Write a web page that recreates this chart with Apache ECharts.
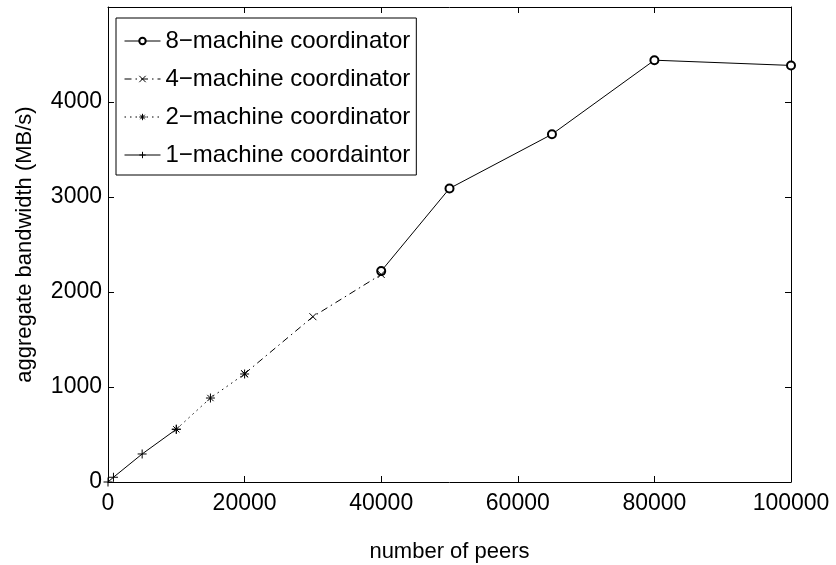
<!DOCTYPE html>
<html>
<head>
<meta charset="utf-8">
<script src="https://cdn.jsdelivr.net/npm/echarts@6/dist/echarts.min.js"></script>
<style>html,body{margin:0;padding:0;background:#fff;}#c{width:836px;height:565px;}</style>
</head>
<body>
<div id="c"></div>
<script>
// ---- data ----
const seriesNames = ['8\u2212machine coordinator', '4\u2212machine coordinator', '2\u2212machine coordinator', '1\u2212machine coordaintor'];
const peers8 = [40000, 50000, 65000, 80000, 100000];
const bw8 = [2220, 3090, 3660, 4440, 4385];
const peers4 = [20000, 30000, 40000];
const bw4 = [1140, 1740, 2185];
const peers2 = [10000, 15000, 20000];
const bw2 = [555, 884, 1137];
const peers1 = [0, 800, 5000, 10000];
const bw1 = [0, 50, 295, 555];
const xTicks = [0, 20000, 40000, 60000, 80000, 100000];
const yTicks = [0, 1000, 2000, 3000, 4000, 5000];

const FONT = 'Liberation Sans, Arial, Helvetica, sans-serif';
const pair = (xs, ys) => xs.map((x, i) => [x, ys[i]]);

const plusPath = 'path://M0,5 L10,5 M5,0 L5,10';
const xPath = 'path://M0,0 L10,10 M10,0 L0,10';
const starPath = 'path://M0,5 L10,5 M5,0 L5,10 M1.5,1.5 L8.5,8.5 M8.5,1.5 L1.5,8.5';

const markStyle = {color: '#000', borderColor: '#000', borderWidth: 1};

const chart = echarts.init(document.getElementById('c'), null, {renderer: 'canvas'});
const axisCommon = {
  min: 0,
  axisLine: {show: true, onZero: false, lineStyle: {color: '#000', width: 1}},
  axisTick: {show: true, inside: true, length: 6, lineStyle: {color: '#000'}},
  splitLine: {show: false}
};
chart.setOption({
  animation: false,
  backgroundColor: '#fff',
  textStyle: {fontFamily: FONT},
  grid: {left: 108, right: 45, top: 7, bottom: 83, containLabel: false, outerBoundsMode: 'none'},
  legend: {
    orient: 'vertical', left: 116, top: 18,
    data: seriesNames,
    backgroundColor: '#fff',
    borderColor: '#000', borderWidth: 1,
    padding: [11, 6, 8, 8],
    itemWidth: 36, itemHeight: 8, itemGap: 14,
    lineStyle: {width: 1},
    itemStyle: {borderWidth: 1},
    textStyle: {fontSize: 24, color: '#000', fontFamily: FONT, lineHeight: 24}
  },
  xAxis: [
    Object.assign({}, axisCommon, {
      type: 'value', position: 'bottom', max: 100000, interval: 20000,
      name: 'number of peers', nameLocation: 'middle', nameGap: 59,
      nameTextStyle: {fontSize: 22, color: '#000', fontFamily: FONT},
      axisLabel: {show: true, fontSize: 23, color: '#000', margin: 10, fontFamily: FONT,
        formatter: v => String(v)}
    }),
    Object.assign({}, axisCommon, {
      type: 'value', position: 'top', max: 100000, interval: 20000,
      axisLabel: {show: false}
    })
  ],
  yAxis: [
    Object.assign({}, axisCommon, {
      type: 'value', position: 'left', max: 5000, interval: 1000,
      name: 'aggregate bandwidth (MB/s)', nameLocation: 'middle', nameGap: 72,
      nameTextStyle: {fontSize: 22, color: '#000', fontFamily: FONT},
      axisLabel: {show: true, fontSize: 23, color: '#000', margin: 6, fontFamily: FONT,
        formatter: v => (v === 5000 ? '' : String(v))}
    }),
    Object.assign({}, axisCommon, {
      type: 'value', position: 'right', max: 5000, interval: 1000,
      axisLabel: {show: false}
    })
  ],
  series: [
    {
      name: seriesNames[0], type: 'line', data: pair(peers8, bw8),
      symbol: 'emptyCircle', symbolSize: 8, showAllSymbol: true,
      itemStyle: {color: '#000', borderWidth: 1},
      lineStyle: {color: '#000', width: 1, type: 'solid'}
    },
    {
      name: seriesNames[1], type: 'line', data: pair(peers4, bw4),
      symbol: xPath, symbolSize: 7,
      itemStyle: markStyle,
      lineStyle: {color: '#000', width: 1, type: [7, 4, 1.5, 4]}
    },
    {
      name: seriesNames[2], type: 'line', data: pair(peers2, bw2),
      symbol: starPath, symbolSize: 9,
      itemStyle: markStyle,
      lineStyle: {color: '#000', width: 1, type: [1.5, 4]}
    },
    {
      name: seriesNames[3], type: 'line', data: pair(peers1, bw1),
      symbol: plusPath, symbolSize: 9,
      itemStyle: markStyle,
      lineStyle: {color: '#000', width: 1, type: 'solid'}
    }
  ]
});
</script>
</body>
</html>
